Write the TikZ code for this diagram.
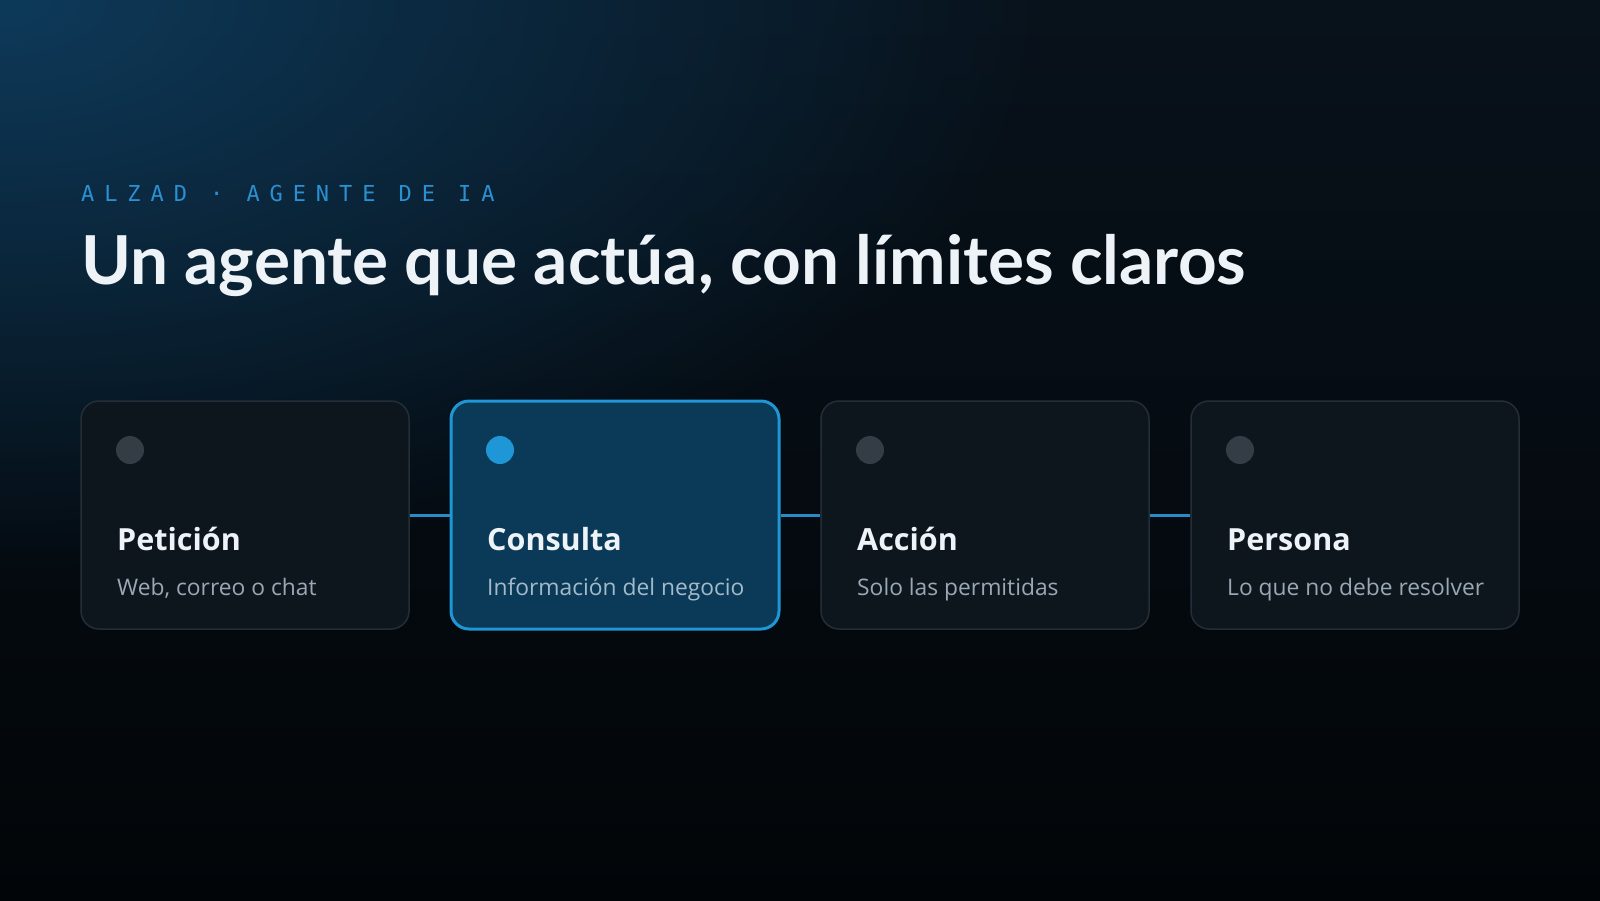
\documentclass[tikz,border=0pt]{standalone}
\usepackage{fontspec}
\setmainfont{Open Sans}
\setmonofont{DejaVu Sans Mono}
\newfontfamily\titlefont{Lato}
\usetikzlibrary{fadings}

\definecolor{bgtop}{HTML}{08121B}
\definecolor{bgbot}{HTML}{020508}
\definecolor{glowc}{HTML}{0E3A5A}
\definecolor{kicker}{HTML}{2A90D2}
\definecolor{titlec}{HTML}{EEF3F8}
\definecolor{cardfill}{HTML}{0E161D}
\definecolor{cardline}{HTML}{242E38}
\definecolor{activefill}{HTML}{0B3A58}
\definecolor{accent}{HTML}{1F96D6}
\definecolor{dotc}{HTML}{343D46}
\definecolor{subc}{HTML}{9AA8B5}
\definecolor{subon}{HTML}{A3BACA}
\definecolor{linkc}{HTML}{2A8AC4}

\tikzfading[name=glowfade,inner color=transparent!0,outer color=transparent!100]

\tikzset{
  cardoff/.style={draw=cardline,fill=cardfill,line width=1.5pt,
    rounded corners=18pt,minimum width=328pt,minimum height=228pt,inner sep=0pt},
  cardon/.style={cardoff,draw=accent,fill=activefill,line width=3pt},
  dotoff/.style={fill=dotc},
  doton/.style={fill=accent},
  head/.style={anchor=base west,inner sep=0pt,text=titlec,
    font=\bfseries\fontsize{30.5}{36}\selectfont},
  suboff/.style={anchor=base west,inner sep=0pt,text=subc,
    font=\fontsize{22.8}{27}\selectfont},
  subon/.style={suboff,text=subon},
  link/.style={draw=linkc,line width=3pt}
}

\begin{document}
\begin{tikzpicture}[x=1pt,y=-1pt]
  \useasboundingbox (0,0) rectangle (1600,900);
  \shade[top color=bgtop,bottom color=bgbot] (0,0) rectangle (1600,900);
  \begin{scope}
    \clip (0,0) rectangle (1600,900);
    \fill[glowc,path fading=glowfade] (0,0) ellipse (1050 and 580);
  \end{scope}

  \node[anchor=base west,inner sep=0pt,text=kicker,
    font=\ttfamily\addfontfeature{LetterSpace=45}\fontsize{22}{26}\selectfont]
    (kicker) at (81,201) {ALZAD · AGENTE DE IA};
  \node[anchor=base west,inner sep=0pt,text=titlec,
    font=\titlefont\bfseries\fontsize{67.5}{78}\selectfont]
    (title) at (81,284) {Un agente que actúa, con límites claros};

  \foreach \x/\n/\st/\h/\s in {%
    {245/peticion/off/Petición/Web, correo o chat},
    {615/consulta/on/Consulta/Información del negocio},
    {985/accion/off/Acción/Solo las permitidas},
    {1355/persona/off/Persona/Lo que no debe resolver}} {
      \node[card\st] (\n) at (\x,515) {};
      \fill[dot\st] (\x-115,450) circle (14);
      \node[head] (\n-head) at (\x-128,550) {\h};
      \node[sub\st] (\n-sub) at (\x-128,595) {\s};
  }

  \foreach \a/\b in {peticion/consulta, consulta/accion, accion/persona} {
    \draw[link] (\a.east) -- (\b.west);
  }
\end{tikzpicture}
\end{document}
